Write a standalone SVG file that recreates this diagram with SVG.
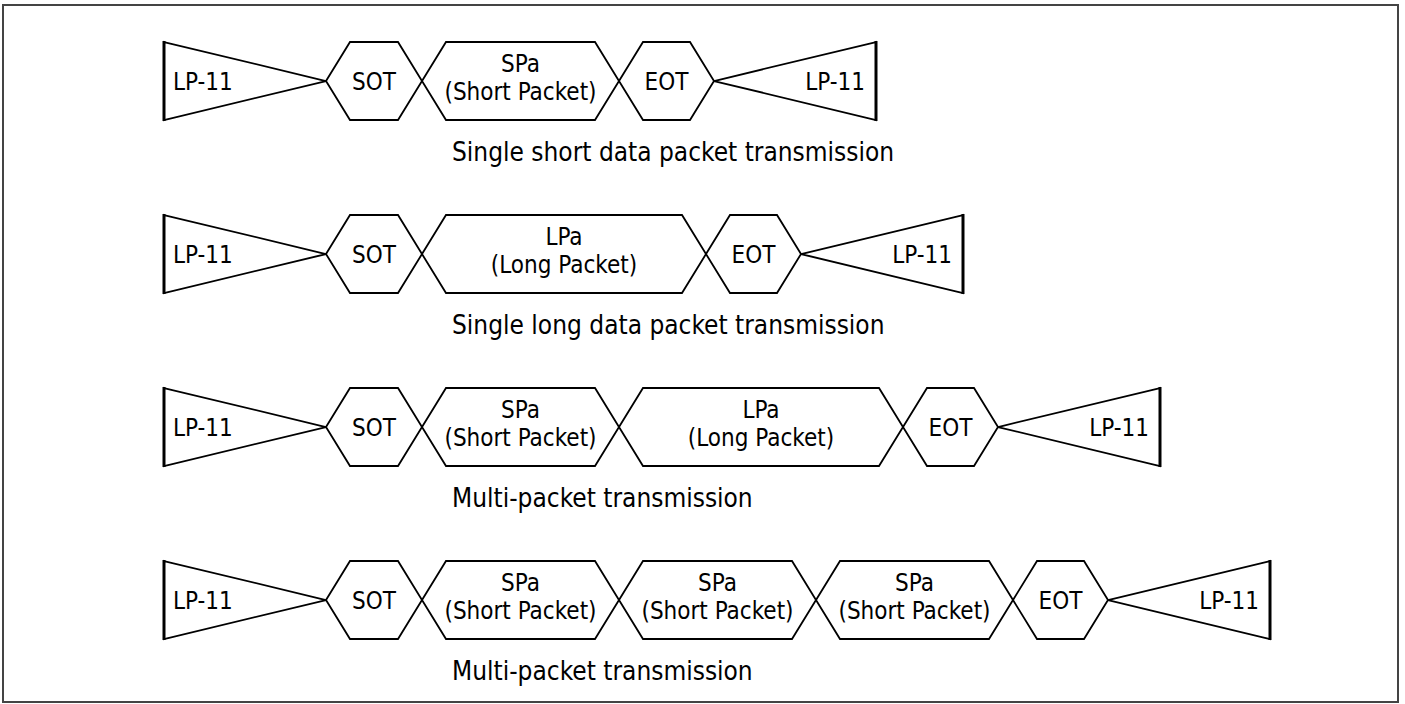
<svg xmlns="http://www.w3.org/2000/svg" width="1405" height="704" viewBox="0 0 1405 704">
<style>
.shape{fill:#fff;stroke:#000;stroke-width:1.8;stroke-linejoin:miter}
.edge{stroke:#000;stroke-width:3;fill:none}
.lbl{font-family:"DejaVu Sans Condensed","DejaVu Sans",sans-serif;font-stretch:condensed;font-size:24px;fill:#000}
.cap{font-family:"DejaVu Sans Condensed","DejaVu Sans",sans-serif;font-stretch:condensed;font-size:26px;fill:#000}
.mid{text-anchor:middle}
.end{text-anchor:end}
</style>
<rect x="3" y="5" width="1395" height="697" fill="#fff" stroke="#444" stroke-width="2"/>
<g id="connectors"/>

<!-- Row 1 -->
<g id="r1-lp-left"><polygon class="shape" points="164,42 326,81 164,120"/><line class="edge" x1="164" y1="41" x2="164" y2="121"/><text class="lbl" x="173" y="90">LP-11</text></g>
<g id="r1-sot"><polygon class="shape" points="326,81 350,42 398,42 422,81 398,120 350,120"/><text class="lbl mid" x="374" y="90">SOT</text></g>
<g id="r1-spa"><polygon class="shape" points="422,81 446,42 595,42 619,81 595,120 446,120"/><text class="lbl mid" x="520.5" y="72">SPa</text><text class="lbl mid" x="520.5" y="100">(Short Packet)</text></g>
<g id="r1-eot"><polygon class="shape" points="619,81 643,42 690,42 714,81 690,120 643,120"/><text class="lbl mid" x="666.5" y="90">EOT</text></g>
<g id="r1-lp-right"><polygon class="shape" points="876,42 714,81 876,120"/><line class="edge" x1="876" y1="41" x2="876" y2="121"/><text class="lbl end" x="865" y="90">LP-11</text></g>
<g id="r1-caption"><text class="cap" x="452" y="161">Single short data packet transmission</text></g>

<!-- Row 2 -->
<g id="r2-lp-left"><polygon class="shape" points="164,215 326,254 164,293"/><line class="edge" x1="164" y1="214" x2="164" y2="294"/><text class="lbl" x="173" y="263">LP-11</text></g>
<g id="r2-sot"><polygon class="shape" points="326,254 350,215 398,215 422,254 398,293 350,293"/><text class="lbl mid" x="374" y="263">SOT</text></g>
<g id="r2-lpa"><polygon class="shape" points="422,254 446,215 682,215 706,254 682,293 446,293"/><text class="lbl mid" x="564" y="245">LPa</text><text class="lbl mid" x="564" y="273">(Long Packet)</text></g>
<g id="r2-eot"><polygon class="shape" points="706,254 730,215 777,215 801,254 777,293 730,293"/><text class="lbl mid" x="753.5" y="263">EOT</text></g>
<g id="r2-lp-right"><polygon class="shape" points="963,215 801,254 963,293"/><line class="edge" x1="963" y1="214" x2="963" y2="294"/><text class="lbl end" x="952" y="263">LP-11</text></g>
<g id="r2-caption"><text class="cap" x="452" y="334">Single long data packet transmission</text></g>

<!-- Row 3 -->
<g id="r3-lp-left"><polygon class="shape" points="164,388 326,427 164,466"/><line class="edge" x1="164" y1="387" x2="164" y2="467"/><text class="lbl" x="173" y="436">LP-11</text></g>
<g id="r3-sot"><polygon class="shape" points="326,427 350,388 398,388 422,427 398,466 350,466"/><text class="lbl mid" x="374" y="436">SOT</text></g>
<g id="r3-spa"><polygon class="shape" points="422,427 446,388 595,388 619,427 595,466 446,466"/><text class="lbl mid" x="520.5" y="418">SPa</text><text class="lbl mid" x="520.5" y="446">(Short Packet)</text></g>
<g id="r3-lpa"><polygon class="shape" points="619,427 643,388 879,388 903,427 879,466 643,466"/><text class="lbl mid" x="761" y="418">LPa</text><text class="lbl mid" x="761" y="446">(Long Packet)</text></g>
<g id="r3-eot"><polygon class="shape" points="903,427 927,388 974,388 998,427 974,466 927,466"/><text class="lbl mid" x="950.5" y="436">EOT</text></g>
<g id="r3-lp-right"><polygon class="shape" points="1160,388 998,427 1160,466"/><line class="edge" x1="1160" y1="387" x2="1160" y2="467"/><text class="lbl end" x="1149" y="436">LP-11</text></g>
<g id="r3-caption"><text class="cap" x="452" y="507">Multi-packet transmission</text></g>

<!-- Row 4 -->
<g id="r4-lp-left"><polygon class="shape" points="164,561 326,600 164,639"/><line class="edge" x1="164" y1="560" x2="164" y2="640"/><text class="lbl" x="173" y="609">LP-11</text></g>
<g id="r4-sot"><polygon class="shape" points="326,600 350,561 398,561 422,600 398,639 350,639"/><text class="lbl mid" x="374" y="609">SOT</text></g>
<g id="r4-spa1"><polygon class="shape" points="422,600 446,561 595,561 619,600 595,639 446,639"/><text class="lbl mid" x="520.5" y="591">SPa</text><text class="lbl mid" x="520.5" y="619">(Short Packet)</text></g>
<g id="r4-spa2"><polygon class="shape" points="619,600 643,561 792,561 816,600 792,639 643,639"/><text class="lbl mid" x="717.5" y="591">SPa</text><text class="lbl mid" x="717.5" y="619">(Short Packet)</text></g>
<g id="r4-spa3"><polygon class="shape" points="816,600 840,561 989,561 1013,600 989,639 840,639"/><text class="lbl mid" x="914.5" y="591">SPa</text><text class="lbl mid" x="914.5" y="619">(Short Packet)</text></g>
<g id="r4-eot"><polygon class="shape" points="1013,600 1037,561 1084,561 1108,600 1084,639 1037,639"/><text class="lbl mid" x="1060.5" y="609">EOT</text></g>
<g id="r4-lp-right"><polygon class="shape" points="1270,561 1108,600 1270,639"/><line class="edge" x1="1270" y1="560" x2="1270" y2="640"/><text class="lbl end" x="1259" y="609">LP-11</text></g>
<g id="r4-caption"><text class="cap" x="452" y="680">Multi-packet transmission</text></g>
</svg>
